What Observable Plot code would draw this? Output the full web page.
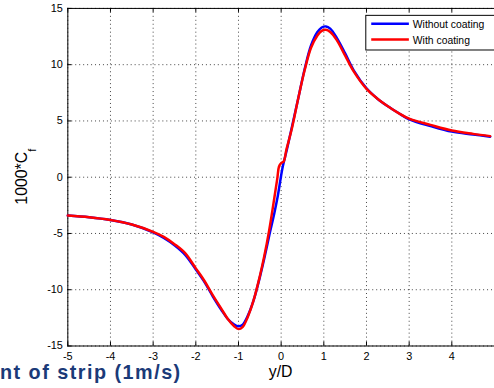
<!DOCTYPE html>
<html>
<head>
<meta charset="utf-8">
<script src="https://cdn.jsdelivr.net/npm/d3@7"></script>
<script src="https://cdn.jsdelivr.net/npm/@observablehq/plot@0.6"></script>
<style>
  html, body { margin: 0; padding: 0; background: #fff; overflow: hidden; }
  #wrap { position: relative; width: 494px; height: 388px; overflow: hidden; }
  #wrap svg { display: block; }
</style>
</head>
<body>
<div id="wrap"></div>
<script>
// ---- data ----
const xTicks = [-5, -4, -3, -2, -1, 0, 1, 2, 3, 4];
const yTicks = [-15, -10, -5, 0, 5, 10, 15];
const seriesNames = ["Without coating", "With coating"];

const xWithout = [-5, -4.5, -4, -3.5, -3, -2.75, -2.5, -2.25, -2, -1.8, -1.6, -1.4, -1.25, -1.1, -1.0, -0.9, -0.78, -0.65, -0.5, -0.4, -0.28, -0.16, -0.08, 0.03, 0.14, 0.26, 0.4, 0.55, 0.7, 0.85, 0.95, 1.05, 1.15, 1.3, 1.5, 1.7, 2.0, 2.25, 2.5, 2.75, 3.0, 3.5, 4.0, 4.5, 4.9];
const yWithout = [-3.4, -3.55, -3.8, -4.2, -4.9, -5.4, -6.05, -6.9, -8.2, -9.3, -10.6, -11.8, -12.6, -13.1, -13.25, -13.1, -12.3, -11.0, -8.9, -7.3, -5.2, -3.2, -1.7, 0.8, 2.55, 4.6, 7.0, 9.6, 11.7, 12.9, 13.3, 13.4, 13.2, 12.4, 11.0, 9.5, 7.9, 7.0, 6.3, 5.7, 5.15, 4.55, 4.05, 3.8, 3.6];

const xWith = [-5, -4.5, -4, -3.5, -3, -2.75, -2.5, -2.25, -2, -1.8, -1.6, -1.4, -1.25, -1.1, -1.0, -0.9, -0.78, -0.65, -0.5, -0.4, -0.28, -0.16, -0.09, -0.05, 0.0, 0.06, 0.12, 0.25, 0.4, 0.55, 0.7, 0.85, 0.95, 1.05, 1.15, 1.3, 1.5, 1.7, 2.0, 2.25, 2.5, 2.75, 3.0, 3.5, 4.0, 4.5, 4.9];
const yWith = [-3.4, -3.55, -3.8, -4.2, -4.85, -5.3, -5.95, -6.75, -8.1, -9.2, -10.5, -11.7, -12.6, -13.25, -13.5, -13.3, -12.4, -11.0, -8.8, -7.1, -4.7, -1.85, -0.1, 0.95, 1.25, 1.4, 2.4, 4.3, 7.0, 9.5, 11.5, 12.6, 13.0, 13.1, 12.9, 12.2, 10.8, 9.4, 7.85, 7.0, 6.3, 5.7, 5.2, 4.65, 4.15, 3.85, 3.65];

const withoutData = xWithout.map((x, i) => ({x, y: yWithout[i]}));
const withData = xWith.map((x, i) => ({x, y: yWith[i]}));

// ---- layout ----
const W = 499, H = 388;
const mL = 68, mR = 0, mT = 8, mB = 39;
const frameW = W - mL - mR, frameH = H - mT - mB;
const tickLen = 4;
const font = "'Liberation Sans', Arial, Helvetica, sans-serif";

const chart = Plot.plot({
  width: W, height: H,
  marginLeft: mL, marginRight: mR, marginTop: mT, marginBottom: mB,
  style: {fontFamily: font, fontSize: "11px", background: "#fff", color: "#000"},
  x: {domain: [-5, 5], ticks: xTicks, tickFormat: d => String(d), label: null, tickSize: 0, tickPadding: 6},
  y: {domain: [-15, 15], ticks: yTicks, tickFormat: d => String(d), label: null, tickSize: 0, tickPadding: 5},
  marks: [
    Plot.ruleX(xTicks, {x: d => d, stroke: "#000", strokeOpacity: 0.75, strokeDasharray: "1,3"}),
    Plot.ruleY(yTicks, {y: d => d, stroke: "#000", strokeOpacity: 0.75, strokeDasharray: "1,3"}),
    Plot.ruleX(xTicks, {x: d => d, stroke: "#000", insetBottom: frameH - tickLen}),
    Plot.ruleX(xTicks, {x: d => d, stroke: "#000", insetTop: frameH - tickLen}),
    Plot.ruleY(yTicks, {y: d => d, stroke: "#000", insetRight: frameW - tickLen}),
    Plot.frame({stroke: "#000"}),
    Plot.line(withoutData, {x: "x", y: "y", stroke: "#0000ff", strokeWidth: 2.5, curve: "catmull-rom"}),
    Plot.line(withData, {x: "x", y: "y", stroke: "#ff0000", strokeWidth: 2.5, curve: "catmull-rom"})
  ]
});

document.getElementById("wrap").appendChild(chart);

const svg = d3.select(chart);

// y label with subscript
const yl = svg.append("text")
  .attr("transform", `translate(27,${mT + frameH / 2}) rotate(-90)`)
  .attr("text-anchor", "middle")
  .attr("font-family", font)
  .attr("font-size", 16)
  .attr("fill", "#000");
yl.append("tspan").text("1000*C");
yl.append("tspan").attr("font-size", 11).attr("dy", 9).text("f");

// x label
svg.append("text")
  .attr("x", mL + frameW / 2).attr("y", 381)
  .attr("text-anchor", "middle")
  .attr("font-family", font)
  .attr("font-size", 16)
  .attr("fill", "#000")
  .text("y/D");

// legend
const lg = svg.append("g").attr("font-family", font).attr("font-size", 10.5).attr("text-anchor", "start");
lg.append("rect").attr("x", 369.5).attr("y", 15.5).attr("width", 140).attr("height", 35)
  .attr("fill", "#fff").attr("stroke", "#000");
const legColors = ["#0000ff", "#ff0000"];
const legY = [24, 40];
seriesNames.forEach((name, i) => {
  lg.append("line").attr("x1", 375).attr("x2", 413).attr("y1", legY[i]).attr("y2", legY[i])
    .attr("stroke", legColors[i]).attr("stroke-width", 2.5);
  lg.append("text").attr("x", 417).attr("y", legY[i] + 4).attr("text-anchor", "start")
    .attr("fill", "#000").text(name);
});

// slide caption fragment at the bottom
svg.append("text")
  .attr("x", 0).attr("y", 383)
  .attr("text-anchor", "start")
  .attr("font-family", font)
  .attr("font-size", 20)
  .attr("font-weight", "bold")
  .attr("letter-spacing", 1.5)
  .attr("fill", "#1b3a78")
  .text("nt of strip (1m/s)");
</script>
</body>
</html>
